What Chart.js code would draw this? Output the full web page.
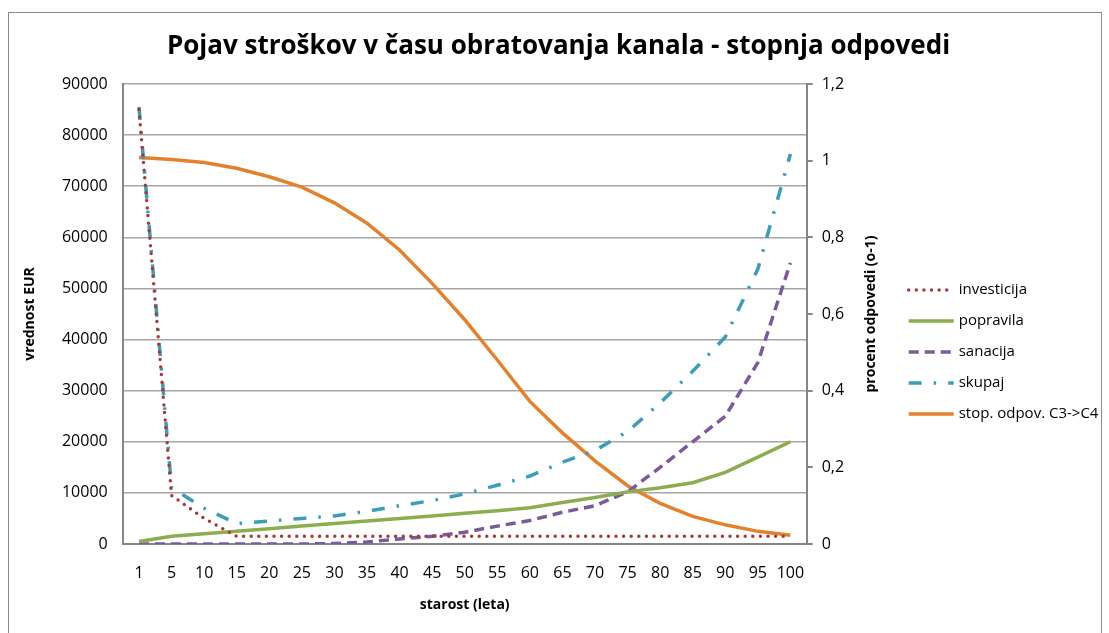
<!DOCTYPE html>
<html>
<head>
<meta charset="utf-8">
<script src="https://cdn.jsdelivr.net/npm/chart.js@4/dist/chart.umd.min.js"></script>
<style>
  html, body { margin: 0; padding: 0; background: #fff; }
  #wrap { position: relative; width: 1109px; height: 633px; overflow: hidden; }
  #frame { position: absolute; left: 8px; top: 12px; width: 1092px; height: 660px; border: 1px solid #8c8c8c; }
  #chart { position: absolute; left: 0; top: 0; }
</style>
</head>
<body>
<div id="wrap">
  <div id="frame"></div>
  <canvas id="chart" width="1109" height="633"></canvas>
</div>
<script>
// starost (leta)
const ages = ['1', '5', '10', '15', '20', '25', '30', '35', '40', '45', '50',
  '55', '60', '65', '70', '75', '80', '85', '90', '95', '100']

// stroški v EUR (leva os)
const investicija = [85000, 9500, 5000, 1500, 1500, 1500, 1500, 1500, 1500, 1500, 1500,
  1500, 1500, 1500, 1500, 1500, 1500, 1500, 1500, 1500, 1500]
const popravila = [500, 1500, 2000, 2500, 3000, 3500, 4000, 4500, 5000, 5500, 6000,
  6500, 7100, 8100, 9100, 10200, 11000, 12000, 14000, 17000, 20000]
const sanacija = [0, 0, 0, 0, 0, 0, 100, 400, 1000, 1500, 2300,
  3500, 4600, 6200, 7500, 10200, 15000, 20000, 25000, 35500, 55000]
const skupaj = [85500, 11000, 7000, 4000, 4500, 5000, 5500, 6400, 7500, 8500, 9800,
  11500, 13300, 16000, 18300, 22000, 27600, 33800, 40500, 53800, 76300]

// stopnja odpovedi (desna os)
const stopOdpov = [1.008, 1.003, 0.995, 0.980, 0.958, 0.931, 0.890, 0.837, 0.767, 0.680, 0.585,
  0.480, 0.372, 0.290, 0.217, 0.152, 0.106, 0.072, 0.050, 0.033, 0.023]

const leftTicks = [0, 10000, 20000, 30000, 40000, 50000, 60000, 70000, 80000, 90000]
const rightTicks = [0, 0.2, 0.4, 0.6, 0.8, 1, 1.2]

const FONT = "'Open Sans', 'Liberation Sans', sans-serif"
const AXIS = '#868686'

// desni naslov osi bere od spodaj navzgor, kot v Excelu
const rightTitle = {
  id: 'rightTitle',
  afterDraw(chart) {
    const ctx = chart.ctx
    const area = chart.chartArea
    ctx.save()
    ctx.translate(area.right + 64, (area.top + area.bottom) / 2)
    ctx.rotate(-Math.PI / 2)
    ctx.font = `bold 14px ${FONT}`
    ctx.fillStyle = '#000'
    ctx.textAlign = 'center'
    ctx.textBaseline = 'middle'
    ctx.fillText('procent odpovedi (o-1)', 0, 0)
    ctx.restore()
  }
}

// legenda desno, s črtami v slogu serije
const sideLegend = {
  id: 'sideLegend',
  afterDraw(chart) {
    const ctx = chart.ctx
    const area = chart.chartArea
    const x0 = area.right + 102
    const y0 = 290
    chart.data.datasets.forEach((ds, i) => {
      const y = y0 + i * 31
      ctx.save()
      ctx.strokeStyle = ds.borderColor
      ctx.lineWidth = ds.borderWidth
      ctx.lineCap = ds.borderCapStyle || 'butt'
      ctx.setLineDash(ds.borderDash || [])
      ctx.beginPath()
      ctx.moveTo(x0, y)
      ctx.lineTo(x0 + 45, y)
      ctx.stroke()
      ctx.restore()
      ctx.save()
      ctx.font = `15px ${FONT}`
      ctx.fillStyle = '#000'
      ctx.textAlign = 'left'
      ctx.textBaseline = 'middle'
      ctx.fillText(ds.label, x0 + 50, y)
      ctx.restore()
    })
  }
}

new Chart(document.getElementById('chart'), {
  type: 'line',
  data: {
    labels: ages,
    datasets: [
      {
        label: 'investicija',
        data: investicija,
        yAxisID: 'y',
        borderColor: '#a83a3c',
        borderWidth: 3.5,
        borderDash: [0, 7.6],
        borderCapStyle: 'round'
      },
      {
        label: 'popravila',
        data: popravila,
        yAxisID: 'y',
        borderColor: '#8cad4d',
        borderWidth: 3.5
      },
      {
        label: 'sanacija',
        data: sanacija,
        yAxisID: 'y',
        borderColor: '#7a5a9c',
        borderWidth: 3.5,
        borderDash: [10, 6]
      },
      {
        label: 'skupaj',
        data: skupaj,
        yAxisID: 'y',
        borderColor: '#3c9db7',
        borderWidth: 3.5,
        borderDash: [13, 12, 2.5, 12]
      },
      {
        label: 'stop. odpov. C3->C4',
        data: stopOdpov,
        yAxisID: 'y1',
        borderColor: '#e3812f',
        borderWidth: 3.5
      }
    ]
  },
  options: {
    responsive: false,
    animation: false,
    elements: {
      point: { radius: 0 },
      line: { tension: 0 }
    },
    layout: { padding: { left: 8, right: 0, top: 12, bottom: 0 } },
    plugins: {
      title: {
        display: true,
        text: 'Pojav stroškov v času obratovanja kanala - stopnja odpovedi',
        color: '#000',
        font: { family: FONT, size: 26, weight: 'bold' },
        padding: { top: 19.4, bottom: 21.4 }
      },
      legend: { display: false },
      tooltip: { enabled: false }
    },
    scales: {
      x: {
        type: 'category',
        offset: true,
        grid: { display: false, drawTicks: false },
        border: { display: true, color: AXIS, width: 2 },
        ticks: {
          color: '#000',
          font: { family: FONT, size: 16 },
          padding: 20,
          maxRotation: 0,
          autoSkip: false
        },
        title: {
          display: true,
          text: 'starost (leta)',
          color: '#000',
          font: { family: FONT, size: 14, weight: 'bold' },
          padding: { top: 0, bottom: 20 }
        },
        afterFit: s => { s.height = 89 }
      },
      y: {
        position: 'left',
        min: 0,
        max: 90000,
        afterBuildTicks: s => { s.ticks = leftTicks.map(v => ({ value: v })) },
        grid: { color: '#a6a6a6', lineWidth: 1.5, drawTicks: false },
        border: { color: AXIS, width: 2 },
        ticks: {
          color: '#000',
          font: { family: FONT, size: 16 },
          padding: 15,
          callback: v => String(v)
        },
        title: {
          display: true,
          text: 'vrednost EUR',
          color: '#000',
          font: { family: FONT, size: 14, weight: 'bold' },
          padding: { top: 14, bottom: 0 }
        },
        afterFit: s => { s.width = 114.7 }
      },
      y1: {
        position: 'right',
        min: 0,
        max: 1.2,
        afterBuildTicks: s => { s.ticks = rightTicks.map(v => ({ value: v })) },
        grid: { drawOnChartArea: false, drawTicks: true, tickLength: 6, color: AXIS, lineWidth: 2 },
        border: { color: AXIS, width: 2 },
        ticks: {
          color: '#000',
          font: { family: FONT, size: 16 },
          padding: 9,
          callback: v => String(Number(v.toFixed(1))).replace('.', ',')
        },
        // prostor desno zajema tudi naslov osi in legendo
        afterFit: s => { s.width = 302.3 }
      }
    }
  },
  plugins: [rightTitle, sideLegend]
})
</script>
</body>
</html>
